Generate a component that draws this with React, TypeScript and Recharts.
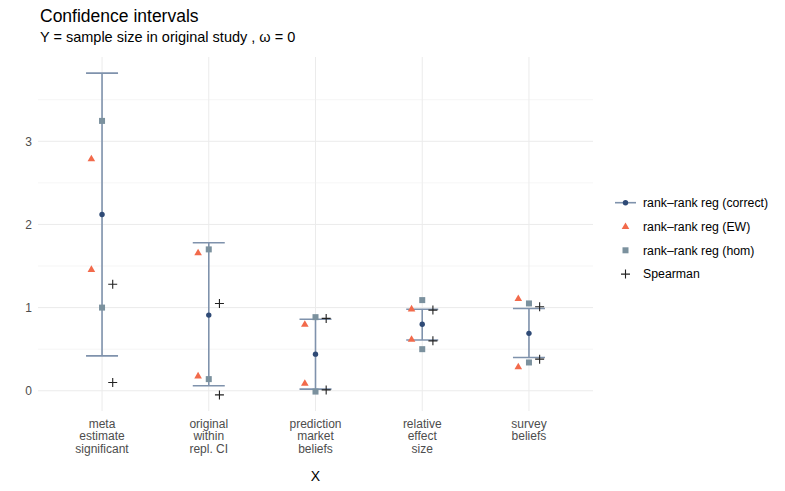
import React from 'react';
import { ComposedChart, Scatter, XAxis, YAxis, CartesianGrid, ErrorBar, ReferenceLine } from 'recharts';

const categories = ['meta\nestimate\nsignificant', 'original\nwithin\nrepl. CI', 'prediction\nmarket\nbeliefs', 'relative\neffect\nsize', 'survey\nbeliefs'];
const correctEst = [2.12, 0.91, 0.44, 0.8, 0.69];
const correctLow = [0.42, 0.06, 0.02, 0.61, 0.4];
const correctHigh = [3.82, 1.78, 0.86, 0.98, 0.99];
const ewLow = [1.46, 0.18, 0.09, 0.62, 0.29];
const ewHigh = [2.79, 1.66, 0.8, 0.985, 1.11];
const homLow = [1.0, 0.14, -0.01, 0.5, 0.34];
const homHigh = [3.245, 1.7, 0.885, 1.09, 1.05];
const spLow = [0.1, -0.05, 0.01, 0.6, 0.38];
const spHigh = [1.28, 1.05, 0.87, 0.97, 1.01];
const yTicks = [0, 1, 2, 3];
const yMinor = [0.5, 1.5, 2.5, 3.5];
const xTicks = [1, 2, 3, 4, 5];

const FONT = '"Liberation Sans", Arial, Helvetica, sans-serif';
const C_ERR = '#7F92AC';
const C_PT = '#2F4A76';
const C_EW = '#F26A4B';
const C_HOM = '#7B919E';
const C_SP = '#222222';

const dodge = 0.1;
const correctData = categories.map((_, i) => ({ x: i + 1, y: correctEst[i], err: [correctEst[i] - correctLow[i], correctHigh[i] - correctEst[i]] }));
const pairData = (lo: number[], hi: number[], off: number) =>
  categories.flatMap((_, i) => [{ x: i + 1 + off, y: lo[i] }, { x: i + 1 + off, y: hi[i] }]);
const ewData = pairData(ewLow, ewHigh, -dodge);
const homData = pairData(homLow, homHigh, 0);
const spData = pairData(spLow, spHigh, dodge);

const allY = [...correctLow, ...correctHigh, ...ewLow, ...ewHigh, ...homLow, ...homHigh, ...spLow, ...spHigh];
const yMin = Math.min(...allY);
const yMax = Math.max(...allY);
const pad = (yMax - yMin) * 0.05;

const Dot = (p: any) => <circle cx={p.cx} cy={p.cy} r={2.7} fill={C_PT} />;
const Tri = (p: any) => (
  <path d={`M${p.cx},${p.cy - 4} L${p.cx + 3.8},${p.cy + 2.6} L${p.cx - 3.8},${p.cy + 2.6} Z`} fill={C_EW} />
);
const Sq = (p: any) => <rect x={p.cx - 3} y={p.cy - 3} width={6} height={6} fill={C_HOM} />;
const Plus = (p: any) => (
  <path d={`M${p.cx - 4.5},${p.cy} H${p.cx + 4.5} M${p.cx},${p.cy - 4.5} V${p.cy + 4.5}`} stroke={C_SP} strokeWidth={1.1} fill="none" />
);

const XTick = (props: any) => {
  const { x, y, payload } = props;
  const idx = Math.round(payload.value) - 1;
  const lines = (categories[idx] || '').split('\n');
  return (
    <text x={x} y={y} textAnchor="middle" fill="#4D4D4D" fontSize={12} fontFamily={FONT}>
      {lines.map((l, i) => (
        <tspan key={i} x={x} dy={i === 0 ? 17 : 12.4}>{l}</tspan>
      ))}
    </text>
  );
};

const legendItems = [
  { label: 'rank\u2013rank reg (correct)', kind: 'correct' },
  { label: 'rank\u2013rank reg (EW)', kind: 'ew' },
  { label: 'rank\u2013rank reg (hom)', kind: 'hom' },
  { label: 'Spearman', kind: 'sp' },
];

export default function App() {
  return (
    <div style={{ position: 'absolute', left: 0, top: 0, width: 785, height: 491, background: '#fff' }}>
      <ComposedChart width={785} height={491} margin={{ top: 57, right: 192, bottom: 0, left: 8 }}>
        <CartesianGrid stroke="#EBEBEB" strokeWidth={1} horizontalValues={yTicks} verticalValues={xTicks} />
        {yMinor.map((v) => (
          <ReferenceLine key={v} y={v} stroke="#EFEFEF" strokeWidth={0.6} />
        ))}
        <XAxis
          type="number"
          dataKey="x"
          domain={[0.4, 5.6]}
          ticks={xTicks}
          tick={<XTick />}
          tickLine={false}
          axisLine={false}
          tickSize={0}
          tickMargin={0}
          height={80}
          interval={0}
          allowDataOverflow
        />
        <YAxis
          type="number"
          dataKey="y"
          domain={[yMin - pad, yMax + pad]}
          ticks={yTicks}
          tickLine={false}
          axisLine={false}
          tickSize={4}
          tickMargin={2}
          width={30}
          allowDataOverflow
          tick={{ fill: '#4D4D4D', fontSize: 12, fontFamily: FONT }}
        />
        <Scatter data={correctData} shape={Dot} isAnimationActive={false}>
          <ErrorBar dataKey="err" direction="y" width={16} stroke={C_ERR} strokeWidth={1.6} />
        </Scatter>
        <Scatter data={ewData} shape={Tri} isAnimationActive={false} />
        <Scatter data={homData} shape={Sq} isAnimationActive={false} />
        <Scatter data={spData} shape={Plus} isAnimationActive={false} />
      </ComposedChart>
      <svg width={785} height={491} style={{ position: 'absolute', left: 0, top: 0, pointerEvents: 'none' }} fontFamily={FONT}>
        <text x={40} y={21.5} fontSize={17.5} fill="#000">Confidence intervals</text>
        <text x={40} y={41.5} fontSize={14.5} fill="#000">Y = sample size in original study , ω = 0</text>
        <text x={315.5} y={480.5} fontSize={14} textAnchor="middle" fill="#000">X</text>
        {legendItems.map((it, i) => {
          const cy = 202.7 + i * 23.8;
          const cx = 625.5;
          let icon: React.ReactNode = null;
          if (it.kind === 'correct')
            icon = (
              <g>
                <line x1={615} x2={636} y1={cy} y2={cy} stroke={C_ERR} strokeWidth={1.6} />
                <circle cx={cx} cy={cy} r={2.7} fill={C_PT} />
              </g>
            );
          else if (it.kind === 'ew') icon = Tri({ cx, cy });
          else if (it.kind === 'hom') icon = Sq({ cx, cy });
          else icon = Plus({ cx, cy });
          return (
            <g key={it.label}>
              {icon}
              <text x={643} y={cy + 4.3} fontSize={12.3} fill="#000">{it.label}</text>
            </g>
          );
        })}
      </svg>
    </div>
  );
}
